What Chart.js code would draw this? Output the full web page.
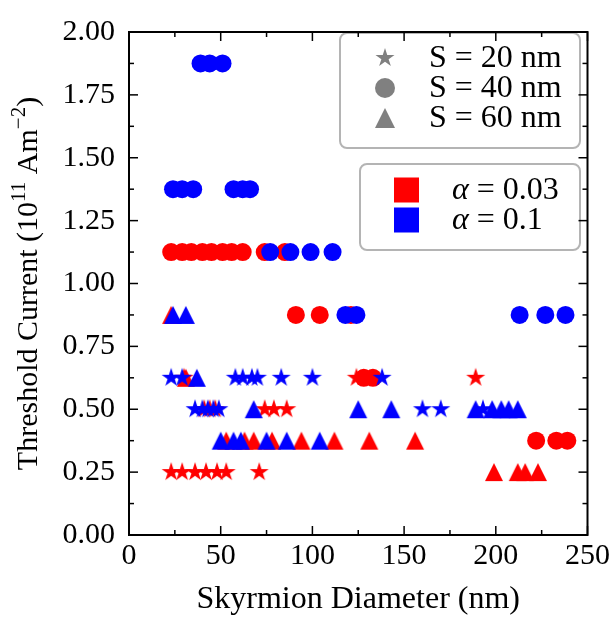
<!DOCTYPE html>
<html>
<head>
<meta charset="utf-8">
<script src="https://cdn.jsdelivr.net/npm/chart.js@4.4.1/dist/chart.umd.min.js"></script>
<style>
  html, body { margin: 0; padding: 0; background: #ffffff; }
  #wrap { width: 613px; height: 621px; }
</style>
</head>
<body>
<div id="wrap"><canvas id="chart" width="613" height="621"></canvas></div>
<script>
// Axis ticks
const xTicks = [0, 50, 100, 150, 200, 250];
const yTicks = [0, 0.25, 0.5, 0.75, 1.0, 1.25, 1.5, 1.75, 2.0];

// alpha = 0.03 (red): skyrmion diameter (nm) and threshold current (1e11 A/m^2)
const red20Diameter = [23, 29, 36, 42, 48, 53, 71, 41, 44, 47, 74, 79, 86, 30, 124, 189];
const red20Current  = [0.25, 0.25, 0.25, 0.25, 0.25, 0.25, 0.25, 0.5, 0.5, 0.5, 0.5, 0.5, 0.5, 0.625, 0.625, 0.625];
const red40Diameter = [23, 29, 34, 40, 45, 51, 56, 62, 74, 85, 91, 104, 121, 128, 133, 222, 233, 239];
const red40Current  = [1.125, 1.125, 1.125, 1.125, 1.125, 1.125, 1.125, 1.125, 1.125, 1.125, 0.875, 0.875, 0.875, 0.625, 0.625, 0.375, 0.375, 0.375];
const red60Diameter = [23, 31, 53, 63, 68, 78, 94, 112, 131, 156, 199, 212, 216, 223];
const red60Current  = [0.875, 0.625, 0.375, 0.375, 0.375, 0.375, 0.375, 0.375, 0.375, 0.375, 0.25, 0.25, 0.25, 0.25];

// alpha = 0.1 (blue)
const blue20Diameter = [23, 29, 58, 62, 67, 70, 83, 100, 138, 36, 40, 43, 46, 49, 160, 170, 193];
const blue20Current  = [0.625, 0.625, 0.625, 0.625, 0.625, 0.625, 0.625, 0.625, 0.625, 0.5, 0.5, 0.5, 0.5, 0.5, 0.5, 0.5, 0.5];
const blue40Diameter = [39, 44, 51, 24, 29, 35, 57, 62, 66, 77, 88, 99, 111, 118, 124, 213, 227, 238];
const blue40Current  = [1.875, 1.875, 1.875, 1.375, 1.375, 1.375, 1.375, 1.375, 1.375, 1.125, 1.125, 1.125, 1.125, 0.875, 0.875, 0.875, 0.875, 0.875];
const blue60Diameter = [24, 31, 37, 68, 125, 143, 189, 198, 203, 207, 212, 50, 57, 61, 75, 86, 104];
const blue60Current  = [0.875, 0.875, 0.625, 0.5, 0.5, 0.5, 0.5, 0.5, 0.5, 0.5, 0.5, 0.375, 0.375, 0.375, 0.375, 0.375, 0.375];

// Legend contents
const spacingLabels = ['S = 20 nm', 'S = 40 nm', 'S = 60 nm'];
const dampingLabels = ['0.03', '0.1'];

const RED = '#ff0000';
const BLUE = '#0000ff';
const GREY = '#808080';
const FONT = '"Liberation Serif", "Times New Roman", serif';

// Filled five-point star, drawn once into a small canvas used as a point style
function starMarker(color, R) {
  const s = Math.ceil(R * 2) + 2;
  const c = document.createElement('canvas');
  c.width = c.height = s;
  const g = c.getContext('2d');
  g.fillStyle = color;
  g.beginPath();
  for (let i = 0; i < 10; i++) {
    const r = i % 2 ? R * 0.381966 : R;
    const a = -Math.PI / 2 + i * Math.PI / 5;
    g.lineTo(s / 2 + r * Math.cos(a), s / 2 + r * Math.sin(a));
  }
  g.closePath();
  g.fill();
  return c;
}

// Upward triangle as wide as it is tall
function triangleMarker(color, half) {
  const s = Math.ceil(half * 2) + 2;
  const c = document.createElement('canvas');
  c.width = c.height = s;
  const g = c.getContext('2d');
  g.fillStyle = color;
  g.beginPath();
  g.moveTo(s / 2, s / 2 - half);
  g.lineTo(s / 2 + half, s / 2 + half);
  g.lineTo(s / 2 - half, s / 2 + half);
  g.closePath();
  g.fill();
  return c;
}

function pairs(xs, ys) {
  return xs.map((v, i) => ({ x: v, y: ys[i] }));
}

function series(label, xs, ys, color, style, radius) {
  return {
    label,
    data: pairs(xs, ys),
    backgroundColor: color,
    borderColor: color,
    borderWidth: 0,
    pointStyle: style,
    pointRadius: radius,
    pointHoverRadius: radius
  };
}

// Inward ticks on all four sides plus a closed frame
const frameTicks = {
  id: 'frameTicks',
  afterDraw(chart) {
    const { ctx, chartArea: a, scales: { x, y } } = chart;
    ctx.save();
    ctx.strokeStyle = '#000';
    ctx.lineWidth = 1.5;
    const seg = (x1, y1, x2, y2) => { ctx.beginPath(); ctx.moveTo(x1, y1); ctx.lineTo(x2, y2); ctx.stroke(); };
    xTicks.forEach((v, i) => {
      const px = x.getPixelForValue(v);
      seg(px, a.bottom, px, a.bottom - 9);
      seg(px, a.top, px, a.top + 9);
      if (i < xTicks.length - 1) {
        const mx = x.getPixelForValue((v + xTicks[i + 1]) / 2);
        seg(mx, a.bottom, mx, a.bottom - 5);
        seg(mx, a.top, mx, a.top + 5);
      }
    });
    yTicks.forEach((v, i) => {
      const py = y.getPixelForValue(v);
      seg(a.left, py, a.left + 9, py);
      seg(a.right, py, a.right - 9, py);
      if (i < yTicks.length - 1) {
        const my = y.getPixelForValue((v + yTicks[i + 1]) / 2);
        seg(a.left, my, a.left + 5, my);
        seg(a.right, my, a.right - 5, my);
      }
    });
    ctx.lineWidth = 2;
    ctx.strokeRect(a.left, a.top, a.width, a.height);
    ctx.restore();
  }
};

// Rotated y title with raised exponents
const yTitle = {
  id: 'yTitle',
  afterDraw(chart) {
    const { ctx, chartArea: a } = chart;
    const big = '30px ' + FONT;
    const small = '21px ' + FONT;
    const parts = [
      { t: 'Threshold Current (10', f: big, dy: 0 },
      { t: '11', f: small, dy: -12 },
      { t: ' Am', f: big, dy: 0 },
      { t: '\u22122', f: small, dy: -12 },
      { t: ')', f: big, dy: 0 }
    ];
    ctx.save();
    let total = 0;
    parts.forEach(p => { ctx.font = p.f; p.w = ctx.measureText(p.t).width; total += p.w; });
    ctx.translate(37, (a.top + a.bottom) / 2);
    ctx.rotate(-Math.PI / 2);
    ctx.fillStyle = '#000';
    ctx.textBaseline = 'alphabetic';
    ctx.textAlign = 'left';
    let cx = -total / 2;
    parts.forEach(p => { ctx.font = p.f; ctx.fillText(p.t, cx, p.dy); cx += p.w; });
    ctx.restore();
  }
};

// Two framed legends: marker shape by spacing, colour by damping
const legends = {
  id: 'legends',
  afterDatasetsDraw(chart) {
    const { ctx } = chart;
    const box = (x, y, w, h) => {
      ctx.save();
      ctx.beginPath();
      ctx.roundRect(x, y, w, h, 7);
      ctx.fillStyle = 'rgba(255,255,255,0.85)';
      ctx.fill();
      ctx.strokeStyle = '#b4b4b4';
      ctx.lineWidth = 2;
      ctx.stroke();
      ctx.restore();
    };
    box(340, 33, 240, 115);
    box(360, 164, 220, 86);

    const shapes = [starMarker(GREY, 10), null, triangleMarker(GREY, 10)];
    ctx.save();
    ctx.fillStyle = '#000';
    ctx.textBaseline = 'middle';
    ctx.textAlign = 'left';
    spacingLabels.forEach((lab, i) => {
      const cy = 58 + i * 30;
      if (shapes[i]) {
        ctx.drawImage(shapes[i], 385 - shapes[i].width / 2, cy - shapes[i].height / 2);
      } else {
        ctx.beginPath();
        ctx.arc(385, cy, 10, 0, Math.PI * 2);
        ctx.fillStyle = GREY;
        ctx.fill();
        ctx.fillStyle = '#000';
      }
      ctx.font = '32px ' + FONT;
      ctx.fillText(lab, 429, cy + 1);
    });

    [RED, BLUE].forEach((col, i) => {
      const cy = 190 + i * 30;
      ctx.fillStyle = col;
      ctx.fillRect(394, cy - 12.5, 25, 25);
      ctx.fillStyle = '#000';
      ctx.font = 'italic 32px ' + FONT;
      ctx.fillText('\u03b1', 452, cy + 1);
      const aw = ctx.measureText('\u03b1').width;
      ctx.font = '32px ' + FONT;
      ctx.fillText(' = ' + dampingLabels[i], 452 + aw, cy + 1);
    });
    ctx.restore();
  }
};

const datasets = [
  series('S = 20 nm, \u03b1 = 0.1', blue20Diameter, blue20Current, BLUE, starMarker(BLUE, 10), 10),
  series('S = 40 nm, \u03b1 = 0.1', blue40Diameter, blue40Current, BLUE, 'circle', 9),
  series('S = 60 nm, \u03b1 = 0.1', blue60Diameter, blue60Current, BLUE, triangleMarker(BLUE, 9), 9),
  series('S = 20 nm, \u03b1 = 0.03', red20Diameter, red20Current, RED, starMarker(RED, 10), 10),
  series('S = 40 nm, \u03b1 = 0.03', red40Diameter, red40Current, RED, 'circle', 9),
  series('S = 60 nm, \u03b1 = 0.03', red60Diameter, red60Current, RED, triangleMarker(RED, 9), 9)
];

new Chart(document.getElementById('chart'), {
  type: 'scatter',
  data: { datasets },
  options: {
    responsive: false,
    animation: false,
    devicePixelRatio: 1,
    events: [],
    layout: { padding: { left: 0, top: 15, right: 23, bottom: 0 } },
    plugins: { legend: { display: false }, tooltip: { enabled: false } },
    scales: {
      x: {
        type: 'linear',
        min: 0,
        max: 250,
        afterBuildTicks: s => { s.ticks = xTicks.map(v => ({ value: v })); },
        afterFit: s => { s.height = 86; },
        grid: { display: false, drawTicks: false },
        border: { display: false },
        ticks: { color: '#000', font: { family: FONT, size: 30 }, padding: 3, maxRotation: 0 },
        title: { display: true, text: 'Skyrmion Diameter (nm)', color: '#000', font: { family: FONT, size: 32 }, padding: { top: 0, bottom: 2 } }
      },
      y: {
        type: 'linear',
        min: 0,
        max: 2,
        afterBuildTicks: s => { s.ticks = yTicks.map(v => ({ value: v })); },
        afterFit: s => { s.width = 129; },
        grid: { display: false, drawTicks: false },
        border: { display: false },
        ticks: { color: '#000', font: { family: FONT, size: 30 }, padding: 14, callback: v => Number(v).toFixed(2) }
      }
    }
  },
  plugins: [frameTicks, yTitle, legends]
});
</script>
</body>
</html>
